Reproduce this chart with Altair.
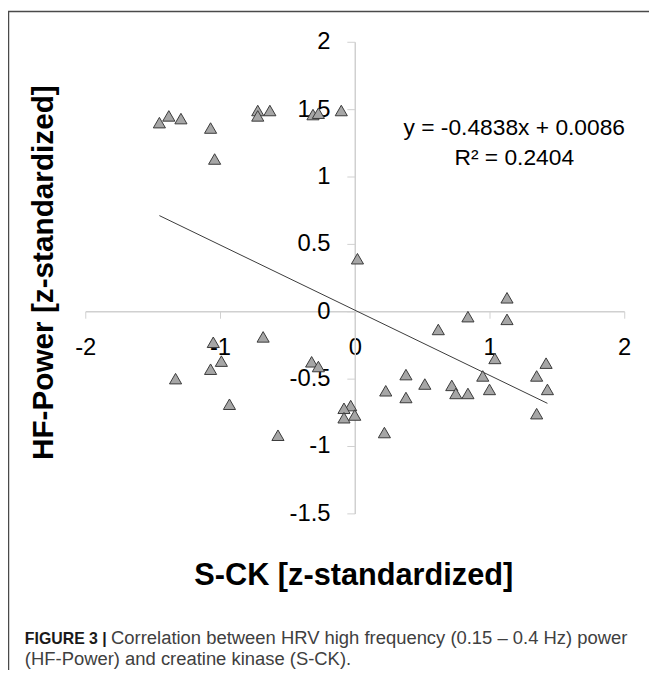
import altair as alt
import pandas as pd

# ---- data ----
sck = [-1.45, -1.38, -1.29, -1.07, -1.04, -0.72, -0.72, -0.63, -0.31, -0.27, -0.10,
       0.02,
       -1.05, -0.99, -1.07, -1.33, -0.93, -0.68, -0.57, -0.32, -0.27, -0.03, -0.08, -0.08, 0.00,
       0.22, 0.23, 0.38, 0.38, 0.52, 0.62, 0.72, 0.75, 0.84, 0.84, 0.95, 1.00, 1.04,
       1.13, 1.13, 1.35, 1.35, 1.42, 1.43]
hf = [1.40, 1.45, 1.43, 1.36, 1.13, 1.49, 1.45, 1.49, 1.46, 1.47, 1.49,
      0.39,
      -0.23, -0.37, -0.43, -0.50, -0.69, -0.19, -0.92, -0.375, -0.41, -0.70, -0.72, -0.79, -0.77,
      -0.90, -0.59, -0.47, -0.64, -0.54, -0.135, -0.55, -0.61, -0.61, -0.04, -0.48, -0.58, -0.35,
      0.10, -0.06, -0.48, -0.76, -0.385, -0.58]

slope = -0.4838
intercept = 0.0086
fit_x = [-1.45, 1.43]

x_ticks = [-2, -1, 0, 1, 2]
y_ticks = [-1.5, -1, -0.5, 0, 0.5, 1, 1.5, 2]

eq_line1 = "y = -0.4838x + 0.0086"
eq_line2 = "R² = 0.2404"
x_title = "S-CK [z-standardized]"
y_title = "HF-Power [z-standardized]"
caption_bold = "FIGURE 3 |"
caption_line1 = "Correlation between HRV high frequency (0.15 – 0.4 Hz) power"
caption_line2 = "(HF-Power) and creatine kinase (S-CK)."

# ---- chart ----
W, H = 544, 476
NARROW = "Liberation Sans Narrow, Arial Narrow, Liberation Sans, sans-serif"
SANS = "Liberation Sans, Arial, sans-serif"
AXIS_GRAY = "#d0d0d0"

pts = pd.DataFrame({"sck": sck, "hf": hf})
fit = pd.DataFrame({"sck": fit_x, "hf": [slope * v + intercept for v in fit_x]})
one = pd.DataFrame({"k": [0]})

xs = alt.Scale(domain=[-2, 2], nice=False, zero=False)
ys = alt.Scale(domain=[-1.5, 2], nice=False, zero=False)

x_axis = alt.Axis(values=x_ticks, offset=-204, grid=False, title=None,
                  domainColor=AXIS_GRAY, domainWidth=1.5, tickColor=AXIS_GRAY,
                  tickWidth=1, tickSize=7, labelFont=NARROW, labelFontSize=24,
                  labelColor="#000000", labelPadding=18, labelOverlap=False,
                  labelFlush=False, labelBound=False, labelExpr="datum.value + ''")
y_axis = alt.Axis(values=y_ticks, offset=-272, grid=False, title=None,
                  domainColor=AXIS_GRAY, domainWidth=1.5, tickColor=AXIS_GRAY,
                  tickWidth=1, tickSize=8, labelFont=NARROW, labelFontSize=24,
                  labelColor="#000000", labelPadding=17, labelOverlap=False,
                  labelFlush=False, labelBound=False, labelExpr="datum.value + ''")

points = alt.Chart(pts).mark_point(
    shape="triangle-up", filled=True, fill="#a6a6a6", stroke="#3a3a3a",
    strokeWidth=1, size=150, opacity=1, fillOpacity=1, strokeOpacity=1
).encode(
    x=alt.X("sck:Q", scale=xs, axis=x_axis),
    y=alt.Y("hf:Q", scale=ys, axis=y_axis),
)

line = alt.Chart(fit).mark_line(color="#3a3a3a", strokeWidth=1).encode(
    x=alt.X("sck:Q", scale=xs),
    y=alt.Y("hf:Q", scale=ys),
)


def label(text, x, y, size, font=NARROW, weight="normal", align="center",
          baseline="alphabetic", angle=0, color="#000000"):
    return alt.Chart(one).mark_text(
        text=text, font=font, fontSize=size, fontWeight=weight, align=align,
        baseline=baseline, angle=angle, color=color
    ).encode(x=alt.value(x), y=alt.value(y))


eq1 = label(eq_line1, 433, 94, 23)
eq2 = label(eq_line2, 433, 124, 23)
xt = label(x_title, 271, 548, 31, weight="bold")
yt = label(y_title, -42, 233, 30, weight="bold", baseline="middle", angle=270)
cap_b = label(caption_bold, -61, 608, 16, font=SANS, weight="bold", align="left",
              color="#1a1a1a")
cap_1 = label(caption_line1, 26, 608, 18.6, font=SANS, align="left", color="#404040")
cap_2 = label(caption_line2, -61, 629, 18.6, font=SANS, align="left", color="#404040")

frame_top = alt.Chart(one).mark_rule(color="#4a4a4a", strokeWidth=1.5).encode(
    x=alt.value(-78), x2=alt.value(569), y=alt.value(-30.5))
frame_left = alt.Chart(one).mark_rule(color="#4a4a4a", strokeWidth=1.5).encode(
    x=alt.value(-77.5), y=alt.value(-31), y2=alt.value(634))

chart = alt.layer(
    frame_top, frame_left, line, points, eq1, eq2, xt, yt, cap_b, cap_1, cap_2
).properties(
    width=W, height=H,
    autosize=alt.AutoSizeParams(type="none"),
    padding={"left": 78, "top": 31, "right": 25, "bottom": 158},
).configure_view(stroke=None)

chart.save("out.html", embed_options={"renderer": "svg", "actions": False})
